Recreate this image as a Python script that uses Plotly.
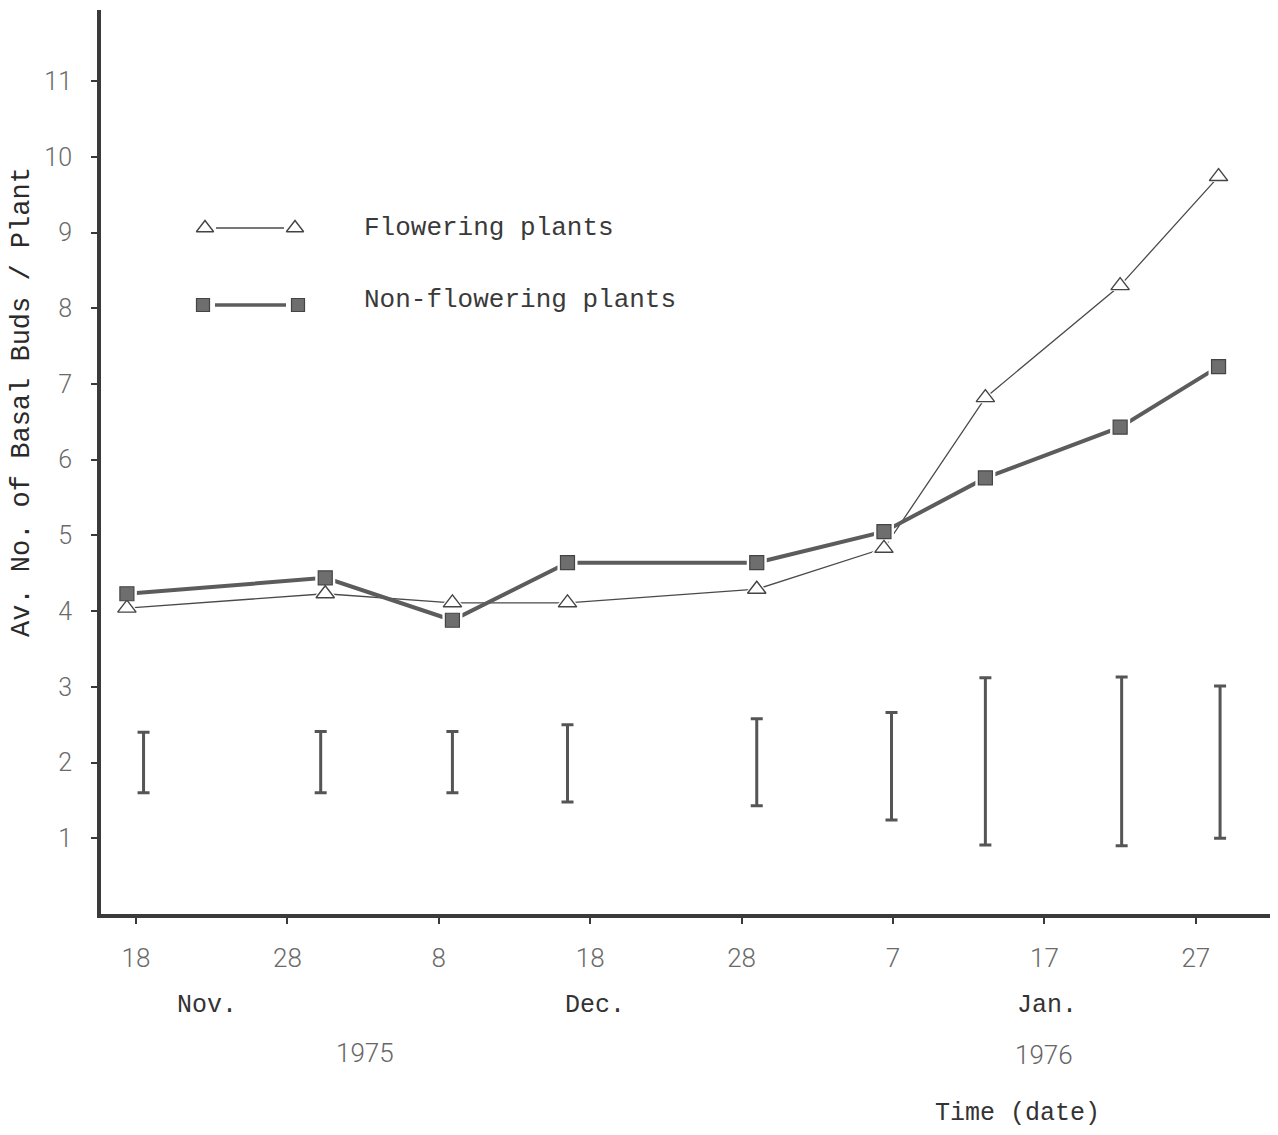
import plotly.graph_objects as go

# ---- data ----
# x positions in days after 18 Nov 1975
sample_days = [-0.6, 12.5, 20.9, 28.5, 41.0, 49.4, 56.1, 65.0, 71.5]
flowering = [4.04, 4.23, 4.11, 4.11, 4.29, 4.83, 6.82, 8.30, 9.74]
non_flowering = [4.23, 4.44, 3.88, 4.64, 4.64, 5.05, 5.76, 6.43, 7.23]

bar_days = [0.5, 12.2, 20.9, 28.5, 41.0, 49.9, 56.1, 65.1, 71.6]
bar_top = [2.40, 2.41, 2.41, 2.50, 2.58, 2.66, 3.12, 3.13, 3.01]
bar_bottom = [1.60, 1.60, 1.60, 1.48, 1.43, 1.24, 0.91, 0.90, 1.00]

x_tickvals = [0, 10, 20, 30, 40, 50, 60, 70]
x_ticktext = ["18", "28", "8", "18", "28", "7", "17", "27"]
y_tickvals = [1, 2, 3, 4, 5, 6, 7, 8, 9, 10, 11]

series_names = ["Flowering plants", "Non-flowering plants"]
y_title = "Av. No. of Basal Buds / Plant"

# ---- styling ----
TYPE = "Liberation Mono"
THIN = "Roboto"
INK = "#3a3a3a"
GREY = "#5c5c5c"

# the page body adds an 8px margin, so the figure is shifted by 8px
OFF = 8
PAGE_W, PAGE_H = 1278, 1135
PLOT_L, PLOT_R, PLOT_T, PLOT_B = 101, 1272, 10, 914   # page pixels


def px_x(p):
    return (p - PLOT_L) / (PLOT_R - PLOT_L)


def px_y(p):
    return (PLOT_B - p) / (PLOT_B - PLOT_T)


bar_mid = [(t + b) / 2 for t, b in zip(bar_top, bar_bottom)]
bar_half = [(t - b) / 2 for t, b in zip(bar_top, bar_bottom)]

fig = go.Figure()

# lines
fig.add_trace(go.Scatter(x=sample_days, y=flowering, mode="lines",
                         line=dict(color="#4a4a4a", width=1.3), hoverinfo="skip"))
fig.add_trace(go.Scatter(x=sample_days, y=non_flowering, mode="lines",
                         line=dict(color=GREY, width=4), hoverinfo="skip"))
# white halos so lines stop short of markers
fig.add_trace(go.Scatter(x=sample_days, y=flowering, mode="markers",
                         marker=dict(symbol="triangle-up", size=22, color="white",
                                     line=dict(width=0)), hoverinfo="skip"))
fig.add_trace(go.Scatter(x=sample_days, y=non_flowering, mode="markers",
                         marker=dict(symbol="square", size=20, color="white",
                                     line=dict(width=0)), hoverinfo="skip"))
# markers
fig.add_trace(go.Scatter(x=sample_days, y=flowering, mode="markers", name=series_names[0],
                         marker=dict(symbol="triangle-up-open", size=16, color="#444",
                                     line=dict(width=1.4, color="#444"))))
fig.add_trace(go.Scatter(x=sample_days, y=non_flowering, mode="markers", name=series_names[1],
                         marker=dict(symbol="square", size=14, color="#6e6e6e",
                                     line=dict(width=1.2, color="#444"))))
# LSD-style bars
fig.add_trace(go.Scatter(x=bar_days, y=bar_mid, mode="markers",
                         marker=dict(size=1, color="rgba(0,0,0,0)"),
                         error_y=dict(type="data", array=bar_half, symmetric=True,
                                      color="#555", thickness=3, width=6),
                         hoverinfo="skip"))

# ---- legend drawn on an overlay axis (0..1) ----
leg_x1 = [px_x(205), px_x(295)]
leg_x2 = [px_x(203), px_x(298)]
leg_y1 = px_y(228)
leg_y2 = px_y(305)
fig.add_trace(go.Scatter(x=[px_x(216), px_x(284)], y=[leg_y1, leg_y1], mode="lines",
                         line=dict(color="#4a4a4a", width=1.3),
                         xaxis="x2", yaxis="y2", hoverinfo="skip"))
fig.add_trace(go.Scatter(x=leg_x1, y=[leg_y1, leg_y1], mode="markers",
                         marker=dict(symbol="triangle-up-open", size=15, color="#444",
                                     line=dict(width=1.4, color="#444")),
                         xaxis="x2", yaxis="y2", hoverinfo="skip"))
fig.add_trace(go.Scatter(x=[px_x(215), px_x(286)], y=[leg_y2, leg_y2], mode="lines",
                         line=dict(color=GREY, width=3.5),
                         xaxis="x2", yaxis="y2", hoverinfo="skip"))
fig.add_trace(go.Scatter(x=leg_x2, y=[leg_y2, leg_y2], mode="markers",
                         marker=dict(symbol="square", size=13, color="#6e6e6e",
                                     line=dict(width=1.2, color="#444")),
                         xaxis="x2", yaxis="y2", hoverinfo="skip"))

annotations = [
    dict(text=series_names[0], x=px_x(362), y=px_y(228), xref="paper", yref="paper",
         xanchor="left", yanchor="middle", showarrow=False,
         font=dict(family=TYPE, size=26, color="#3a3a3a")),
    dict(text=series_names[1], x=px_x(362), y=px_y(300), xref="paper", yref="paper",
         xanchor="left", yanchor="middle", showarrow=False,
         font=dict(family=TYPE, size=26, color="#3a3a3a")),
    dict(text=y_title, x=px_x(22), y=px_y(402), xref="paper", yref="paper",
         xanchor="center", yanchor="middle",
         showarrow=False, textangle=-90, font=dict(family=TYPE, size=27, color="#2a2a2a")),
]

below = [
    ("Nov.", 4.7, 1005, TYPE, 25, "#333"),
    ("Dec.", 30.3, 1005, TYPE, 25, "#333"),
    ("Jan.", 60.2, 1005, TYPE, 25, "#333"),
    ("1975", 15.1, 1053, THIN, 26, "#666"),
    ("1976", 60.0, 1055, THIN, 26, "#666"),
    ("Time (date)", 58.2, 1113, TYPE, 25, "#333"),
]
for txt, xd, py, fam, sz, col in below:
    annotations.append(dict(text=txt, x=xd, y=px_y(py), xref="x", yref="paper",
                            xanchor="center", yanchor="middle", showarrow=False,
                            font=dict(family=fam, size=sz, color=col,
                                      weight=300 if fam == THIN else 400)))

fig.update_layout(
    width=PAGE_W - OFF, height=PAGE_H - OFF,
    margin=dict(l=PLOT_L - OFF, r=PAGE_W - PLOT_R, t=PLOT_T - OFF, b=PAGE_H - PLOT_B),
    paper_bgcolor="white", plot_bgcolor="white",
    showlegend=False,
    annotations=annotations,
    xaxis=dict(range=[-2.31, 75.03], showgrid=False, zeroline=False,
               showline=True, linecolor=INK, linewidth=4,
               ticks="outside", ticklen=6, tickwidth=1.5, tickcolor=INK,
               tickvals=x_tickvals, ticktext=x_ticktext, ticklabelstandoff=12,
               tickfont=dict(family=THIN, size=26, color="#6a6a6a", weight=300)),
    yaxis=dict(range=[0, 11.94], showgrid=False, zeroline=False,
               showline=True, linecolor=INK, linewidth=4,
               ticks="outside", ticklen=6, tickwidth=1.5, tickcolor=INK,
               tickvals=y_tickvals, ticklabelstandoff=14,
               tickfont=dict(family=THIN, size=25, color="#6a6a6a", weight=300)),
    xaxis2=dict(range=[0, 1], overlaying="x", visible=False, fixedrange=True),
    yaxis2=dict(range=[0, 1], overlaying="y", visible=False, fixedrange=True),
)

fig.write_html("out.html")
